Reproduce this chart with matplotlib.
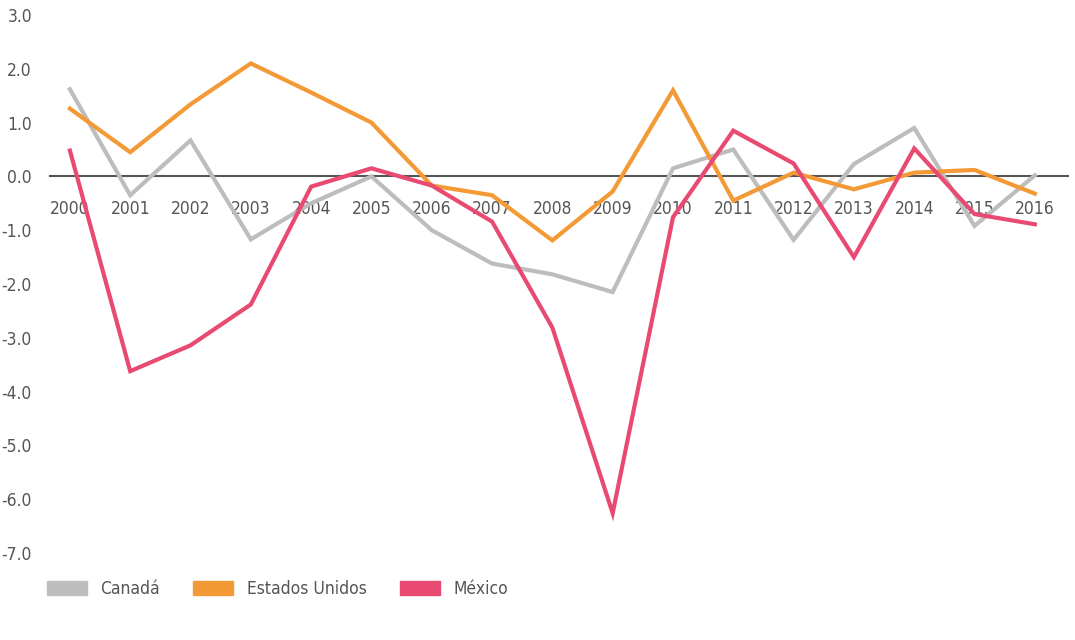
import matplotlib.pyplot as plt
from matplotlib.patches import Patch

years = list(range(2000, 2017))
canada = [1.62, -0.35, 0.67, -1.17, -0.5, 0.0, -1.0, -1.62, -1.82, -2.15,
          0.15, 0.5, -1.18, 0.23, 0.9, -0.92, 0.02]
usa = [1.26, 0.45, 1.34, 2.1, 1.56, 1.0, -0.17, -0.35, -1.19, -0.28,
       1.6, -0.45, 0.07, -0.24, 0.07, 0.12, -0.32]
mexico = [0.48, -3.62, -3.14, -2.38, -0.19, 0.15, -0.17, -0.84, -2.81, -6.26,
          -0.76, 0.85, 0.24, -1.5, 0.52, -0.7, -0.89]
yticks = [3.0, 2.0, 1.0, 0.0, -1.0, -2.0, -3.0, -4.0, -5.0, -6.0, -7.0]

c_can = '#BDBDBD'
c_usa = '#F39A36'
c_mex = '#E84A72'
txt = '#555555'

plt.rcParams['font.family'] = ['DejaVu Sans']
plt.rcParams['font.stretch'] = 'condensed'

fig = plt.figure(figsize=(10.75, 6.4), dpi=100)
ax = fig.add_axes([50 / 1075, 87 / 640, 1018 / 1075, 538 / 640])

ax.plot(years, canada, color=c_can, lw=3.0, solid_joinstyle='miter')
ax.plot(years, usa, color=c_usa, lw=3.0, solid_joinstyle='miter')
ax.plot(years, mexico, color=c_mex, lw=3.0, solid_joinstyle='miter')

ax.set_xlim(1999.67, 2016.55)
ax.set_ylim(-7.0, 3.0)

for s in ['top', 'right', 'left']:
    ax.spines[s].set_visible(False)
ax.spines['bottom'].set_position(('data', 0))
ax.spines['bottom'].set_color('#555555')
ax.spines['bottom'].set_linewidth(1.5)
ax.spines['bottom'].set_zorder(0.5)

ax.set_xticks(years)
ax.set_xticklabels([str(y) for y in years])
ax.set_yticks(yticks)
ax.set_yticklabels([f'{v:.1f}' for v in yticks])
ax.tick_params(axis='x', length=0, pad=17, labelsize=12.5, labelcolor=txt)
ax.tick_params(axis='y', length=0, pad=13, labelsize=12.5, labelcolor=txt)

handles = [Patch(color=c_can, label='Canadá'),
           Patch(color=c_usa, label='Estados Unidos'),
           Patch(color=c_mex, label='México')]
leg = fig.legend(handles=handles, loc='center left', bbox_to_anchor=(31 / 1075, 1 - 589 / 640),
                 ncol=3, frameon=False, fontsize=12.5, handlelength=2.3, handleheight=0.9,
                 columnspacing=1.9, handletextpad=0.8)
for t in leg.get_texts():
    t.set_color(txt)

fig.savefig('out.png', dpi=100)
